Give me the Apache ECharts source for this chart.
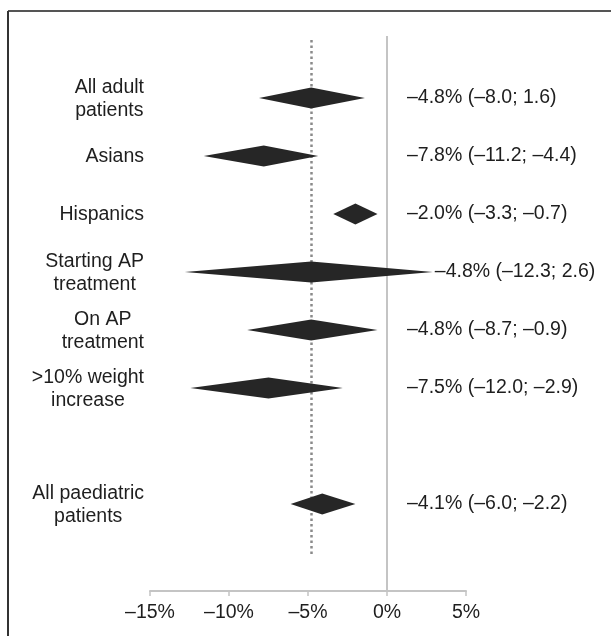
<!DOCTYPE html>
<html><head><meta charset="utf-8">
<script src="https://cdn.jsdelivr.net/npm/echarts@6/dist/echarts.min.js"></script>
<style>html,body{margin:0;padding:0;background:#fff}#c{width:611px;height:636px}</style>
</head><body><div id="c"></div>
<script>
// ---- data ----
const categories = ['All adult\npatients', 'Asians', 'Hispanics', 'Starting AP\ntreatment', 'On AP\ntreatment', '>10% weight\nincrease', '', 'All paediatric\npatients'];
const estimates = [-4.8, -7.8, -2.0, -4.8, -4.8, -7.5, null, -4.1];
const lowerCI   = [-8.1, -11.6, -3.4, -12.8, -8.85, -12.45, null, -6.1];
const upperCI   = [-1.4, -4.35, -0.6, 2.9, -0.6, -2.8, null, -2.0];
const ciLabels  = ['–4.8% (–8.0; 1.6)', '–7.8% (–11.2; –4.4)', '–2.0% (–3.3; –0.7)', '–4.8% (–12.3; 2.6)', '–4.8% (–8.7; –0.9)', '–7.5% (–12.0; –2.9)', '', '–4.1% (–6.0; –2.2)'];
const xTicks = [-15, -10, -5, 0, 5];
const xTickLabels = ['–15%', '–10%', '–5%', '0%', '5%'];
const overallEstimate = -4.8;

// ---- chart ----
const FONT = 'Liberation Sans, Arial, Helvetica, sans-serif';
const FS = 19.5;
const rows = [];
estimates.forEach((e, i) => { if (e !== null) rows.push([i, e, lowerCI[i], upperCI[i]]); });

const chart = echarts.init(document.getElementById('c'), null, {renderer: 'canvas'});
chart.setOption({
  animation: false,
  backgroundColor: '#fff',
  grid: {left: 150, right: 145, top: 36, bottom: 45},
  xAxis: {
    type: 'value', min: xTicks[0], max: xTicks[xTicks.length - 1], interval: 5,
    axisLine: {show: true, onZero: false, lineStyle: {color: '#c4c4c4', width: 2}},
    axisTick: {show: true, length: 5, lineStyle: {color: '#c4c4c4', width: 1.5}},
    splitLine: {show: false},
    axisLabel: {
      margin: 12, fontSize: FS, fontFamily: FONT, color: '#1e1e1e',
      formatter: v => { const k = xTicks.indexOf(v); return k >= 0 ? xTickLabels[k] : ''; }
    }
  },
  yAxis: {type: 'value', inverse: true, min: -1.07, max: 8.5, show: false},
  graphic: [
    {type: 'line', shape: {x1: 8, y1: 11, x2: 611, y2: 11}, style: {stroke: '#555', lineWidth: 2}},
    {type: 'line', shape: {x1: 8, y1: 11, x2: 8, y2: 636}, style: {stroke: '#333', lineWidth: 2}}
  ],
  series: [{
    type: 'line',
    data: [],
    z: 1,
    markLine: {
      z: 1,
      silent: true, symbol: 'none', label: {show: false},
      data: [
        [{coord: [overallEstimate, -1.0], lineStyle: {color: '#8a8a8a', width: 2.5, type: [2.5, 3]}},
         {coord: [overallEstimate, 7.88]}],
        [{coord: [0, -1.07], lineStyle: {color: '#c4c4c4', width: 2, type: 'solid'}},
         {coord: [0, 8.5]}]
      ]
    }
  }, {
    type: 'custom',
    data: rows,
    encode: {x: [1, 2, 3], y: 0},
    z: 6,
    renderItem: function (params, api) {
      const row = api.value(0);
      const c = api.coord([api.value(1), row]);
      const l = api.coord([api.value(2), row]);
      const r = api.coord([api.value(3), row]);
      const zero = api.coord([0, row]);
      const h = 10.5;
      const lines = categories[row].split('\n');
      return {
        type: 'group',
        children: [
          {type: 'polygon', shape: {points: [[l[0], c[1]], [c[0], c[1] - h], [r[0], c[1]], [c[0], c[1] + h]]},
           style: {fill: '#262626'}},
          {type: 'text', style: {
            x: Math.max(zero[0] + 20, r[0] + 2), y: c[1], text: ciLabels[row],
            align: 'left', verticalAlign: 'middle', fill: '#1e1e1e', fontSize: FS, fontFamily: FONT}},
          {type: 'text', style: {
            x: 144, y: c[1] + 1,
            text: lines.map(s => '{a|' + s + '}').join('\n'),
            align: 'right', verticalAlign: 'middle',
            rich: {a: {align: 'center', fontSize: FS, fontFamily: FONT, fill: '#1e1e1e', lineHeight: 23}}}}
        ]
      };
    }
  }]
});
</script>
</body></html>
